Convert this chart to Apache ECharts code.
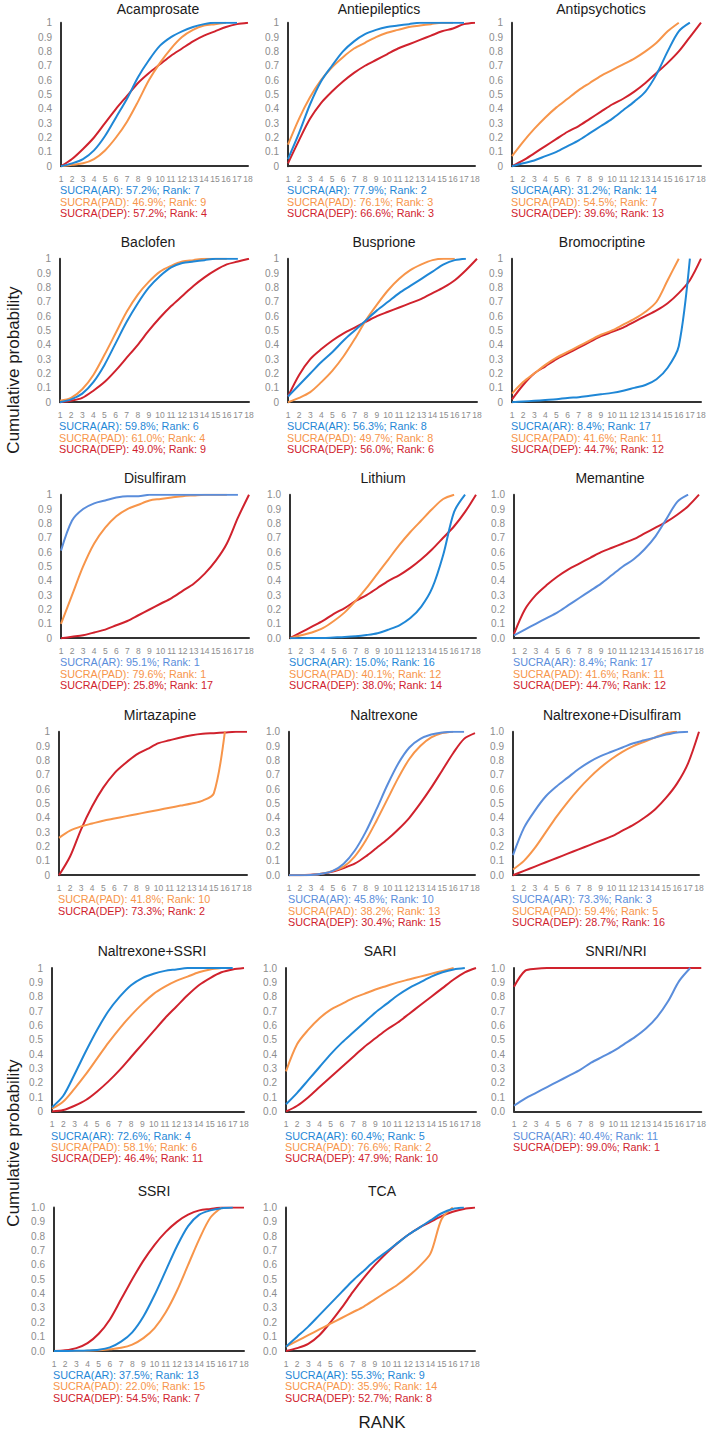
<!DOCTYPE html>
<html><head><meta charset="utf-8">
<script src="https://cdn.jsdelivr.net/npm/echarts@6/dist/echarts.min.js"></script>
<style>html,body{margin:0;padding:0;background:#fff}#c{width:709px;height:1433px}</style>
</head><body><div id="c"></div>
<script>
// ---------- DATA ----------
const ranks = [1,2,3,4,5,6,7,8,9,10,11,12,13,14,15,16,17,18];
const panelTitles = ['Acamprosate','Antiepileptics','Antipsychotics','Baclofen','Busprione','Bromocriptine','Disulfiram','Lithium','Memantine','Mirtazapine','Naltrexone','Naltrexone+Disulfiram','Naltrexone+SSRI','SARI','SNRI/NRI','SSRI','TCA'];

const acamprosateAR  = [0,0.02,0.05,0.11,0.21,0.34,0.47,0.62,0.74,0.84,0.9,0.94,0.97,0.99,1,1,1];
const acamprosatePAD = [0,0.01,0.02,0.05,0.11,0.2,0.31,0.45,0.6,0.72,0.82,0.9,0.95,0.98,0.99,1];
const acamprosateDEP = [0,0.05,0.12,0.2,0.3,0.4,0.49,0.58,0.65,0.71,0.77,0.82,0.87,0.91,0.94,0.97,0.99,1];

const antiepilepticsAR  = [0.05,0.23,0.43,0.59,0.7,0.8,0.87,0.92,0.95,0.97,0.98,0.99,1,1,1,1,1];
const antiepilepticsPAD = [0.15,0.33,0.48,0.6,0.69,0.76,0.82,0.86,0.9,0.93,0.95,0.97,0.98,0.99,1,1];
const antiepilepticsDEP = [0.02,0.18,0.33,0.44,0.52,0.59,0.65,0.7,0.74,0.78,0.82,0.85,0.88,0.91,0.94,0.96,0.99,1];

const antipsychoticsAR  = [0,0.02,0.04,0.07,0.1,0.14,0.18,0.23,0.28,0.33,0.39,0.45,0.52,0.64,0.8,0.94,1];
const antipsychoticsPAD = [0.07,0.17,0.26,0.34,0.41,0.47,0.53,0.58,0.63,0.67,0.71,0.75,0.8,0.86,0.94,1];
const antipsychoticsDEP = [0,0.04,0.09,0.14,0.19,0.24,0.28,0.33,0.38,0.43,0.47,0.52,0.58,0.65,0.72,0.8,0.9,1];

const baclofenAR  = [0,0.02,0.06,0.14,0.26,0.41,0.56,0.69,0.8,0.88,0.94,0.97,0.98,0.99,1,1,1];
const baclofenPAD = [0.01,0.03,0.09,0.19,0.33,0.48,0.63,0.75,0.84,0.91,0.95,0.98,0.99,1,1,1];
const baclofenDEP = [0,0.01,0.03,0.08,0.14,0.22,0.31,0.4,0.5,0.59,0.67,0.74,0.81,0.87,0.92,0.96,0.98,1];

const buspironeAR  = [0.04,0.12,0.2,0.28,0.35,0.43,0.5,0.57,0.64,0.7,0.76,0.81,0.86,0.91,0.96,0.99,1];
const buspironePAD = [0,0.03,0.07,0.14,0.22,0.32,0.44,0.57,0.68,0.78,0.86,0.92,0.96,0.99,1,1];
const buspironeDEP = [0.04,0.19,0.3,0.37,0.43,0.48,0.52,0.56,0.6,0.63,0.66,0.69,0.72,0.76,0.8,0.85,0.92,1];

const bromocriptineAR  = [0,0.005,0.01,0.015,0.02,0.03,0.035,0.045,0.055,0.065,0.08,0.1,0.12,0.16,0.24,0.39,1];
const bromocriptinePAD = [0.06,0.14,0.2,0.26,0.31,0.35,0.39,0.43,0.47,0.5,0.54,0.58,0.63,0.7,0.85,1];
const bromocriptineDEP = [0.02,0.12,0.2,0.25,0.3,0.34,0.38,0.42,0.46,0.49,0.52,0.56,0.6,0.64,0.69,0.76,0.85,1];

const disulfiramAR  = [0.61,0.82,0.9,0.94,0.96,0.98,0.99,0.99,1,1,1,1,1,1,1,1,1];
const disulfiramPAD = [0.1,0.3,0.5,0.66,0.77,0.85,0.9,0.93,0.96,0.97,0.98,0.99,0.995,1,1,1];
const disulfiramDEP = [0,0.01,0.02,0.04,0.06,0.09,0.12,0.16,0.2,0.24,0.28,0.33,0.38,0.45,0.54,0.66,0.84,1];

const lithiumAR  = [0,0,0.001,0.002,0.005,0.008,0.013,0.022,0.035,0.06,0.09,0.14,0.22,0.35,0.58,0.88,1];
const lithiumPAD = [0,0.02,0.04,0.07,0.12,0.18,0.26,0.35,0.45,0.55,0.65,0.74,0.82,0.9,0.97,1];
const lithiumDEP = [0,0.04,0.08,0.12,0.17,0.21,0.26,0.3,0.35,0.4,0.44,0.49,0.55,0.62,0.7,0.78,0.88,1];

const memantineAR  = [0.02,0.06,0.1,0.14,0.18,0.23,0.28,0.33,0.38,0.44,0.5,0.55,0.62,0.71,0.83,0.95,1];
const memantinePAD = [];
const memantineDEP = [0.03,0.2,0.3,0.37,0.43,0.48,0.52,0.56,0.6,0.63,0.66,0.69,0.73,0.77,0.81,0.86,0.92,1];

const mirtazapineAR  = [];
const mirtazapinePAD = [0.26,0.31,0.34,0.36,0.38,0.395,0.41,0.425,0.44,0.455,0.47,0.485,0.5,0.52,0.57,1];
const mirtazapineDEP = [0,0.13,0.32,0.48,0.61,0.71,0.78,0.84,0.88,0.92,0.94,0.96,0.975,0.985,0.99,0.995,1,1];

const naltrexoneAR  = [0,0,0.002,0.01,0.03,0.08,0.17,0.3,0.46,0.63,0.78,0.89,0.95,0.98,0.995,1,1];
const naltrexonePAD = [0,0,0.002,0.01,0.03,0.06,0.13,0.24,0.38,0.53,0.68,0.81,0.9,0.96,0.99,1];
const naltrexoneDEP = [0,0,0.003,0.01,0.025,0.05,0.08,0.13,0.19,0.25,0.32,0.4,0.5,0.61,0.73,0.85,0.95,0.99];

const naltrexoneDisulfiramAR  = [0.14,0.33,0.45,0.55,0.62,0.68,0.74,0.79,0.83,0.86,0.89,0.92,0.94,0.96,0.98,0.995,1];
const naltrexoneDisulfiramPAD = [0.04,0.1,0.19,0.3,0.41,0.51,0.6,0.68,0.75,0.81,0.86,0.9,0.93,0.96,0.99,1];
const naltrexoneDisulfiramDEP = [0,0.03,0.06,0.09,0.12,0.15,0.18,0.21,0.24,0.27,0.31,0.35,0.4,0.46,0.54,0.64,0.78,1];

const naltrexoneSSRIAR  = [0.03,0.11,0.26,0.42,0.57,0.7,0.8,0.88,0.93,0.96,0.98,0.99,1,1,1,1,1];
const naltrexoneSSRIPAD = [0.02,0.07,0.16,0.26,0.37,0.48,0.58,0.67,0.75,0.82,0.87,0.91,0.94,0.97,0.99,1];
const naltrexoneSSRIDEP = [0,0.01,0.04,0.08,0.14,0.21,0.29,0.38,0.47,0.56,0.65,0.73,0.81,0.88,0.93,0.97,0.99,1];

const sariAR  = [0.05,0.13,0.22,0.31,0.4,0.48,0.55,0.62,0.69,0.75,0.81,0.86,0.9,0.94,0.97,0.99,1];
const sariPAD = [0.28,0.47,0.57,0.65,0.71,0.75,0.79,0.82,0.85,0.875,0.9,0.92,0.94,0.96,0.98,1];
const sariDEP = [0,0.04,0.1,0.17,0.24,0.31,0.38,0.45,0.51,0.57,0.62,0.68,0.74,0.8,0.86,0.92,0.97,1];

const snriAR  = [0.04,0.09,0.13,0.17,0.21,0.25,0.29,0.34,0.38,0.42,0.47,0.52,0.58,0.66,0.77,0.91,1];
const snriPAD = [];
const snriDEP = [0.87,0.98,0.995,1,1,1,1,1,1,1,1,1,1,1,1,1,1,1];

const ssriAR  = [0,0,0.001,0.003,0.008,0.025,0.065,0.13,0.24,0.39,0.56,0.73,0.87,0.95,0.98,0.995,1];
const ssriPAD = [0,0,0,0.002,0.006,0.012,0.022,0.045,0.09,0.16,0.27,0.42,0.6,0.78,0.93,1];
const ssriDEP = [0,0.005,0.02,0.055,0.12,0.22,0.36,0.5,0.63,0.74,0.83,0.9,0.95,0.98,0.99,1,1,1];

const tcaAR  = [0.03,0.1,0.17,0.25,0.33,0.41,0.49,0.56,0.63,0.69,0.75,0.81,0.86,0.91,0.96,0.99,1];
const tcaPAD = [0.03,0.07,0.11,0.15,0.19,0.23,0.27,0.31,0.36,0.41,0.46,0.52,0.59,0.68,0.92,1];
const tcaDEP = [0,0.02,0.05,0.11,0.2,0.3,0.41,0.51,0.6,0.68,0.75,0.81,0.86,0.9,0.94,0.97,0.99,1];

const acamprosateText = ['SUCRA(AR): 57.2%; Rank: 7','SUCRA(PAD): 46.9%; Rank: 9','SUCRA(DEP): 57.2%; Rank: 4'];
const antiepilepticsText = ['SUCRA(AR): 77.9%; Rank: 2','SUCRA(PAD): 76.1%; Rank: 3','SUCRA(DEP): 66.6%; Rank: 3'];
const antipsychoticsText = ['SUCRA(AR): 31.2%; Rank: 14','SUCRA(PAD): 54.5%; Rank: 7','SUCRA(DEP): 39.6%; Rank: 13'];
const baclofenText = ['SUCRA(AR): 59.8%; Rank: 6','SUCRA(PAD): 61.0%; Rank: 4','SUCRA(DEP): 49.0%; Rank: 9'];
const buspironeText = ['SUCRA(AR): 56.3%; Rank: 8','SUCRA(PAD): 49.7%; Rank: 8','SUCRA(DEP): 56.0%; Rank: 6'];
const bromocriptineText = ['SUCRA(AR): 8.4%; Rank: 17','SUCRA(PAD): 41.6%; Rank: 11','SUCRA(DEP): 44.7%; Rank: 12'];
const disulfiramText = ['SUCRA(AR): 95.1%; Rank: 1','SUCRA(PAD): 79.6%; Rank: 1','SUCRA(DEP): 25.8%; Rank: 17'];
const lithiumText = ['SUCRA(AR): 15.0%; Rank: 16','SUCRA(PAD): 40.1%; Rank: 12','SUCRA(DEP): 38.0%; Rank: 14'];
const memantineText = ['SUCRA(AR): 8.4%; Rank: 17','SUCRA(PAD): 41.6%; Rank: 11','SUCRA(DEP): 44.7%; Rank: 12'];
const mirtazapineText = ['SUCRA(PAD): 41.8%; Rank: 10','SUCRA(DEP): 73.3%; Rank: 2'];
const naltrexoneText = ['SUCRA(AR): 45.8%; Rank: 10','SUCRA(PAD): 38.2%; Rank: 13','SUCRA(DEP): 30.4%; Rank: 15'];
const naltrexoneDisulfiramText = ['SUCRA(AR): 73.3%; Rank: 3','SUCRA(PAD): 59.4%; Rank: 5','SUCRA(DEP): 28.7%; Rank: 16'];
const naltrexoneSSRIText = ['SUCRA(AR): 72.6%; Rank: 4','SUCRA(PAD): 58.1%; Rank: 6','SUCRA(DEP): 46.4%; Rank: 11'];
const sariText = ['SUCRA(AR): 60.4%; Rank: 5','SUCRA(PAD): 76.6%; Rank: 2','SUCRA(DEP): 47.9%; Rank: 10'];
const snriText = ['SUCRA(AR): 40.4%; Rank: 11','SUCRA(DEP): 99.0%; Rank: 1'];
const ssriText = ['SUCRA(AR): 37.5%; Rank: 13','SUCRA(PAD): 22.0%; Rank: 15','SUCRA(DEP): 54.5%; Rank: 7'];
const tcaText = ['SUCRA(AR): 55.3%; Rank: 9','SUCRA(PAD): 35.9%; Rank: 14','SUCRA(DEP): 52.7%; Rank: 8'];

// y-label style per panel: 'int' => 1, 0.9 ... 0 ; 'dec' => 1.0 ... 0.0
const yLabelStyle = ['int','int','int','int','int','int','int','dec','dec','int','dec','dec','int','dec','dec','dec','dec'];

// ---------- LAYOUT / STYLE ----------
const panelAR  = [acamprosateAR,antiepilepticsAR,antipsychoticsAR,baclofenAR,buspironeAR,bromocriptineAR,disulfiramAR,lithiumAR,memantineAR,mirtazapineAR,naltrexoneAR,naltrexoneDisulfiramAR,naltrexoneSSRIAR,sariAR,snriAR,ssriAR,tcaAR];
const panelPAD = [acamprosatePAD,antiepilepticsPAD,antipsychoticsPAD,baclofenPAD,buspironePAD,bromocriptinePAD,disulfiramPAD,lithiumPAD,memantinePAD,mirtazapinePAD,naltrexonePAD,naltrexoneDisulfiramPAD,naltrexoneSSRIPAD,sariPAD,snriPAD,ssriPAD,tcaPAD];
const panelDEP = [acamprosateDEP,antiepilepticsDEP,antipsychoticsDEP,baclofenDEP,buspironeDEP,bromocriptineDEP,disulfiramDEP,lithiumDEP,memantineDEP,mirtazapineDEP,naltrexoneDEP,naltrexoneDisulfiramDEP,naltrexoneSSRIDEP,sariDEP,snriDEP,ssriDEP,tcaDEP];
const panelText = [acamprosateText,antiepilepticsText,antipsychoticsText,baclofenText,buspironeText,bromocriptineText,disulfiramText,lithiumText,memantineText,mirtazapineText,naltrexoneText,naltrexoneDisulfiramText,naltrexoneSSRIText,sariText,snriText,ssriText,tcaText];

const rowTops = [22.7, 258.7, 494.7, 731.7, 968, 1207.5];
const plotH = 143.5;
const colX = [
  [[61,248],[288,475],[512,701]],
  [[60,249],[288,477],[512,701]],
  [[61,249],[290,476],[514,699]],
  [[59,247],[289,475],[513,699]],
  [[52,244],[286,476],[514,704]],
  [[54,244],[286,475]]
];
const titleX = [158,379,601,148,384,602,155,383,610,160,384,612,152,380,616,154,382];
const lightBlue = [6,8,10,11,14];

const BLUE = '#1f87d6', BLUE2 = '#5a8ddb', ORANGE = '#f7954a', RED = '#d0222d';
const AXIS = '#333333', TICK = '#8c8c8c';

const grids = [], xAxes = [], yAxes = [], series = [], graphics = [];
let p = 0;
rowTops.forEach((top, r) => {
  colX[r].forEach(([x0, x1]) => {
    const i = p;
    const blue = lightBlue.includes(i) ? BLUE2 : BLUE;
    grids.push({left: x0, top: top, width: x1 - x0, height: plotH});
    xAxes.push({
      gridIndex: i, type: 'value', min: 1, max: 18, interval: 1,
      axisLine: {show: true, onZero: false, lineStyle: {color: AXIS, width: 2}},
      axisTick: {show: false}, splitLine: {show: false},
      axisLabel: {color: TICK, fontSize: 8.5, margin: 8, fontFamily: '"Liberation Sans",Arial', hideOverlap: false, showMinLabel: true, showMaxLabel: true}
    });
    const st = yLabelStyle[i];
    yAxes.push({
      gridIndex: i, type: 'value', min: 0, max: 1, interval: 0.1,
      axisLine: {show: true, lineStyle: {color: AXIS, width: 2}},
      axisTick: {show: false}, splitLine: {show: false},
      axisLabel: {color: TICK, fontSize: 10, margin: 9, fontFamily: '"Liberation Sans",Arial',
        formatter: v => { if (st === 'int') { if (Math.abs(v-1)<1e-6) return '1'; if (Math.abs(v)<1e-6) return '0'; } return v.toFixed(1); }}
    });
    const mk = (arr, color) => ({
      type: 'line', xAxisIndex: i, yAxisIndex: i, data: arr.map((v, k) => [ranks[k], v]),
      smooth: 0.3, showSymbol: false, symbol: 'none', lineStyle: {color: color, width: 2}, itemStyle: {color: color}, animation: false, silent: true
    });
    if (panelDEP[i].length) series.push(mk(panelDEP[i], RED));
    if (panelPAD[i].length) series.push(mk(panelPAD[i], ORANGE));
    if (panelAR[i].length) series.push(mk(panelAR[i], blue));
    graphics.push({type: 'text', x: titleX[i], y: Math.max(top - 17, 9), style: {text: panelTitles[i], fill: '#1a1a1a', font: '14px "Liberation Sans",Arial', textAlign: 'center', textVerticalAlign: 'middle'}});
    const offs = [24, 35.3, 46.8];
    panelText[i].forEach((t, k) => {
      const c = t.indexOf('(AR)') >= 0 ? blue : (t.indexOf('(PAD)') >= 0 ? ORANGE : RED);
      graphics.push({type: 'text', x: x0 - 1, y: top + plotH + offs[k], style: {text: t, fill: c, font: '10.8px "Liberation Sans",Arial', textAlign: 'left', textVerticalAlign: 'middle'}});
    });
    p++;
  });
});
graphics.push({type: 'text', x: 13, y: 370, rotation: Math.PI/2, style: {text: 'Cumulative probability', fill: '#1a1a1a', font: '17px "Liberation Sans",Arial', textAlign: 'center', textVerticalAlign: 'middle'}});
graphics.push({type: 'text', x: 13, y: 1143, rotation: Math.PI/2, style: {text: 'Cumulative probability', fill: '#1a1a1a', font: '17px "Liberation Sans",Arial', textAlign: 'center', textVerticalAlign: 'middle'}});
graphics.push({type: 'text', x: 382, y: 1422, style: {text: 'RANK', fill: '#1a1a1a', font: '17px "Liberation Sans",Arial', textAlign: 'center', textVerticalAlign: 'middle'}});

const chart = echarts.init(document.getElementById('c'), null, {renderer: 'svg', width: 709, height: 1433});
chart.setOption({animation: false, backgroundColor: '#fff', grid: grids, xAxis: xAxes, yAxis: yAxes, series: series, graphic: graphics});
</script></body></html>
